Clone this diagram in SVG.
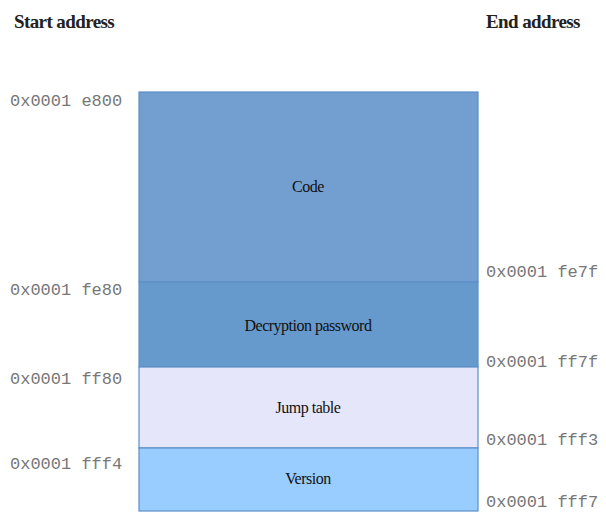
<svg xmlns="http://www.w3.org/2000/svg" width="606" height="513" viewBox="0 0 606 513">
<style>
.title{font-family:"Liberation Serif","Times New Roman",serif;font-weight:bold;font-size:19px;fill:#222;letter-spacing:-0.6px}
.addr{font-family:"Liberation Mono","Courier New",monospace;font-size:17px;fill:#777}
.lbl{font-family:"Liberation Serif","Times New Roman",serif;font-size:16px;fill:#111;text-anchor:middle;letter-spacing:-0.5px}
.seg{stroke:#5b8fc9;stroke-width:1.2}
</style>
<rect width="606" height="513" fill="#fff"/>
<text class="title" x="14" y="28">Start address</text>
<text class="title" x="486" y="28">End address</text>
<g id="code"><rect class="seg" x="139" y="92" width="339" height="190" fill="#729fcf"/><text class="lbl" x="308" y="192">Code</text></g>
<g id="password"><rect class="seg" x="139" y="282" width="339" height="85" fill="#6699cc"/><text class="lbl" x="308" y="331">Decryption password</text></g>
<g id="jump"><rect class="seg" x="139" y="367" width="339" height="81" fill="#e6e6fa"/><text class="lbl" x="308" y="413">Jump table</text></g>
<g id="version"><rect class="seg" x="139" y="448" width="339" height="63" fill="#99ccff"/><text class="lbl" x="308" y="484">Version</text></g>
<g id="start-labels">
<text class="addr" x="10" y="106">0x0001 e800</text>
<text class="addr" x="10" y="295">0x0001 fe80</text>
<text class="addr" x="10" y="384">0x0001 ff80</text>
<text class="addr" x="10" y="469">0x0001 fff4</text>
</g>
<g id="end-labels">
<text class="addr" x="486" y="277">0x0001 fe7f</text>
<text class="addr" x="486" y="367">0x0001 ff7f</text>
<text class="addr" x="486" y="445">0x0001 fff3</text>
<text class="addr" x="486" y="507">0x0001 fff7</text>
</g>
<g id="connectors"></g>
</svg>
